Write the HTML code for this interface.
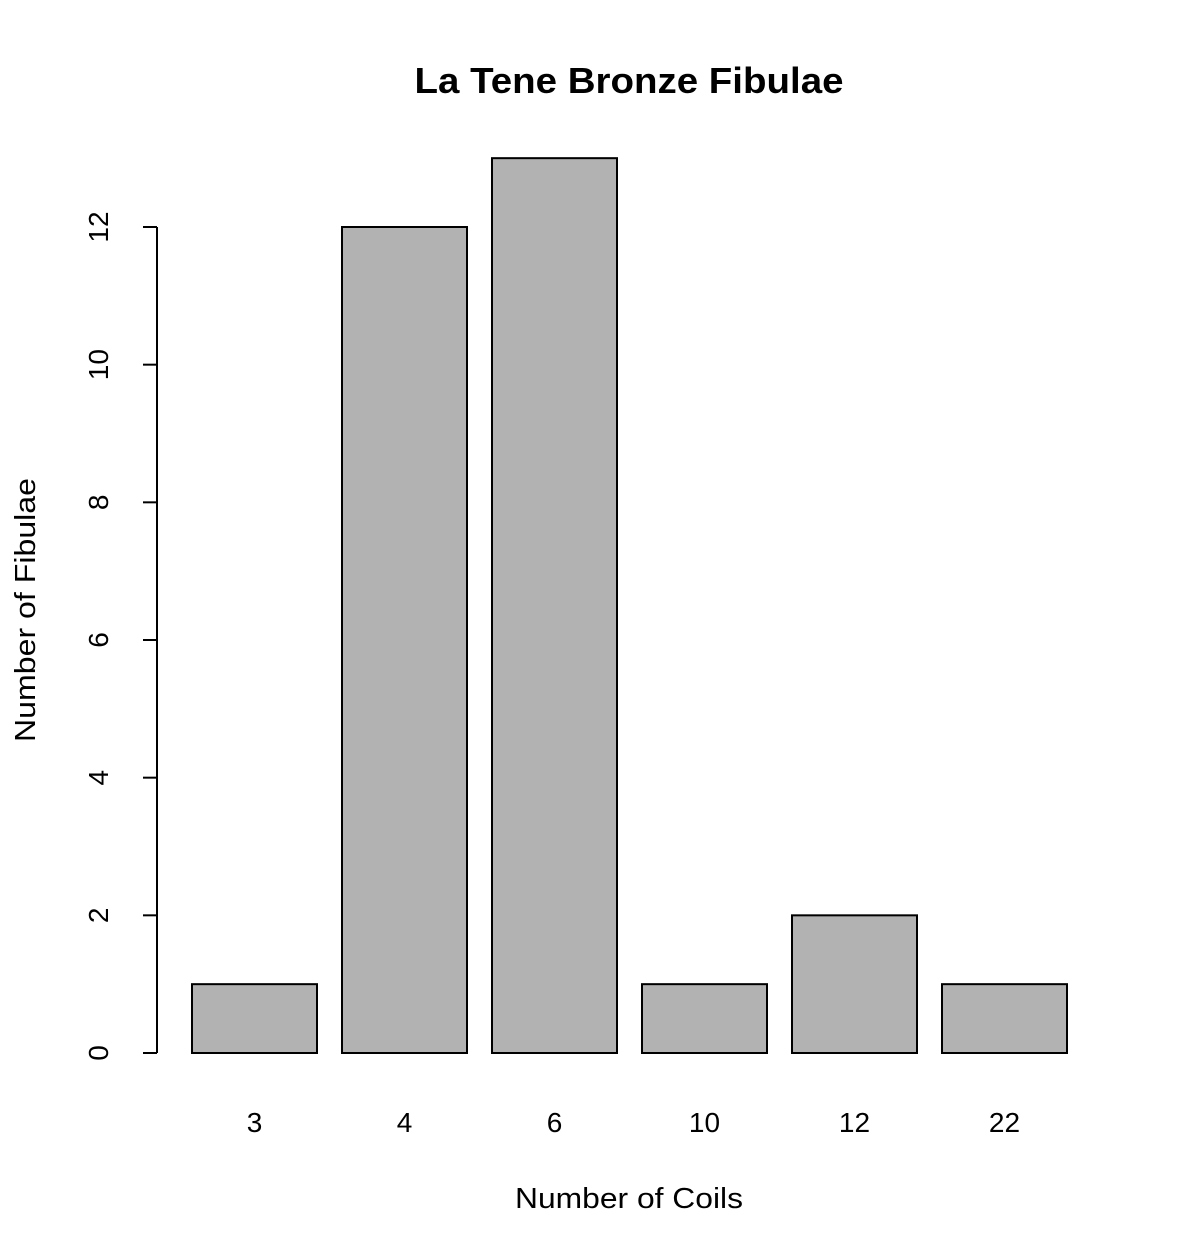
<!DOCTYPE html>
<html><head><meta charset="utf-8"><style>
html,body{margin:0;padding:0;background:#fff;}
svg{display:block;font-family:"Liberation Sans",Arial,sans-serif;}
</style></head><body>
<svg id="chart" width="1182" height="1258" viewBox="0 0 1182 1258">
<text x="629" y="93" text-anchor="middle" font-size="36" font-weight="bold" textLength="429" lengthAdjust="spacingAndGlyphs">La Tene Bronze Fibulae</text>
<text x="629" y="1208" text-anchor="middle" font-size="29" textLength="228" lengthAdjust="spacingAndGlyphs">Number of Coils</text>
<text transform="translate(35,610) rotate(-90)" text-anchor="middle" font-size="29" textLength="264" lengthAdjust="spacingAndGlyphs">Number of Fibulae</text>
<g id="yaxis"></g>
<g id="bars"></g>
<g id="xlabels"></g>
</svg>
<script>
const categories = ["3","4","6","10","12","22"];
const counts = [1,12,13,1,2,1];
const yTicks = [0,2,4,6,8,10,12];
const NS="http://www.w3.org/2000/svg";
const y0=1053, unit=(1053-227)/12;
function yScale(v){return y0-v*unit;}
function xLeft(i){return 192+150*i;}
const bw=125;
const ya=document.getElementById('yaxis');
const axl=document.createElementNS(NS,'line');
axl.setAttribute('x1',157);axl.setAttribute('x2',157);
axl.setAttribute('y1',yScale(yTicks[0]));axl.setAttribute('y2',yScale(yTicks[yTicks.length-1]));
axl.setAttribute('stroke','#000');axl.setAttribute('stroke-width',2);


ya.appendChild(axl);
yTicks.forEach(t=>{
  const y=yScale(t);
  const l=document.createElementNS(NS,'line');
  l.setAttribute('x1',143);l.setAttribute('x2',157);l.setAttribute('y1',y);l.setAttribute('y2',y);
  l.setAttribute('stroke','#000');l.setAttribute('stroke-width',2);
  
  
  ya.appendChild(l);
  const tx=document.createElementNS(NS,'text');
  tx.setAttribute('transform','translate(108,'+y+') rotate(-90)');
  tx.setAttribute('text-anchor','middle');tx.setAttribute('font-size','28');
  tx.textContent=t;
  
  
  ya.appendChild(tx);
});
const bg=document.getElementById('bars'), xl=document.getElementById('xlabels');
counts.forEach((v,i)=>{
  const r=document.createElementNS(NS,'rect');
  r.setAttribute('x',xLeft(i));r.setAttribute('y',yScale(v));
  r.setAttribute('width',bw);r.setAttribute('height',y0-yScale(v));
  r.setAttribute('fill','#b2b2b2');r.setAttribute('stroke','#000');r.setAttribute('stroke-width',2);
  
  
  bg.appendChild(r);
  const t=document.createElementNS(NS,'text');
  t.setAttribute('x',xLeft(i)+bw/2);t.setAttribute('y',1132);
  t.setAttribute('text-anchor','middle');t.setAttribute('font-size','28');
  t.textContent=categories[i];
  
  
  xl.appendChild(t);
});
</script>
</body></html>
